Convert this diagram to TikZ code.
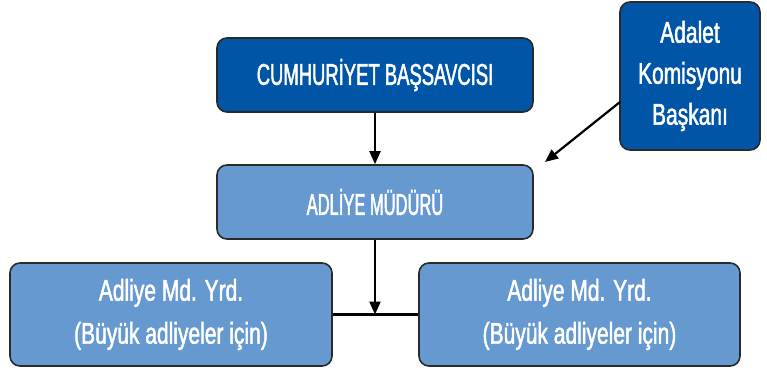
\documentclass[tikz,border=0pt]{standalone}
\usepackage{fontspec}
\setmainfont{Liberation Sans}
\newfontfamily\capsA[FakeStretch=0.615,FakeBold=1.6]{Liberation Sans}
\newfontfamily\capsB[FakeStretch=0.55,FakeBold=1.6]{Liberation Sans}
\newfontfamily\lowf[FakeStretch=0.70,FakeBold=1.6]{Liberation Sans}
\usetikzlibrary{arrows.meta}
\definecolor{darkbl}{HTML}{0055A6}
\definecolor{lightbl}{HTML}{6699D0}
\definecolor{edgec}{HTML}{2A2A2A}
\tikzset{
  box/.style={draw=edgec, line width=1.6pt, rounded corners=10pt, text=white, align=center, inner sep=0pt},
  darkbox/.style={box, fill=darkbl},
  lightbox/.style={box, fill=lightbl},
  conn/.style={line width=2.2pt, -{Triangle[length=13pt,width=11pt]}},
  plain/.style={line width=2.2pt}
}
\begin{document}
\begin{tikzpicture}[x=1pt,y=-1pt]
\useasboundingbox (0,0) rectangle (767,371);
\node[darkbox, minimum width=316pt, minimum height=74pt, font=\capsA\fontsize{30}{40}\selectfont] (top) at (375,75) {CUMHURİYET BAŞSAVCISI};
\node[darkbox, minimum width=140pt, minimum height=148pt, font=\lowf\fontsize{30}{41}\selectfont] (adalet) at (690,76) {Adalet\\Komisyonu\\Başkanı};
\node[lightbox, minimum width=316pt, minimum height=74pt, font=\capsB\fontsize{30}{40}\selectfont] (mid) at (375,202) {ADLİYE MÜDÜRÜ};
\node[lightbox, minimum width=322pt, minimum height=103pt, font=\lowf\fontsize{30}{43}\selectfont] (bl) at (171,314.5) {Adliye Md. Yrd.\\(Büyük adliyeler için)};
\node[lightbox, minimum width=321pt, minimum height=103pt, font=\lowf\fontsize{30}{43}\selectfont] (br) at (579.5,314.5) {Adliye Md. Yrd.\\(Büyük adliyeler için)};
\coordinate (tipA) at (545,162);
\coordinate (startA) at (620,102);
\coordinate (join) at (375,314.5);
\draw[conn] (top.south) -- (mid.north);
\draw[conn] (startA) -- (tipA);
\draw[plain] (bl.east) -- (br.west);
\draw[conn] (mid.south) -- (join);
\end{tikzpicture}
\end{document}
